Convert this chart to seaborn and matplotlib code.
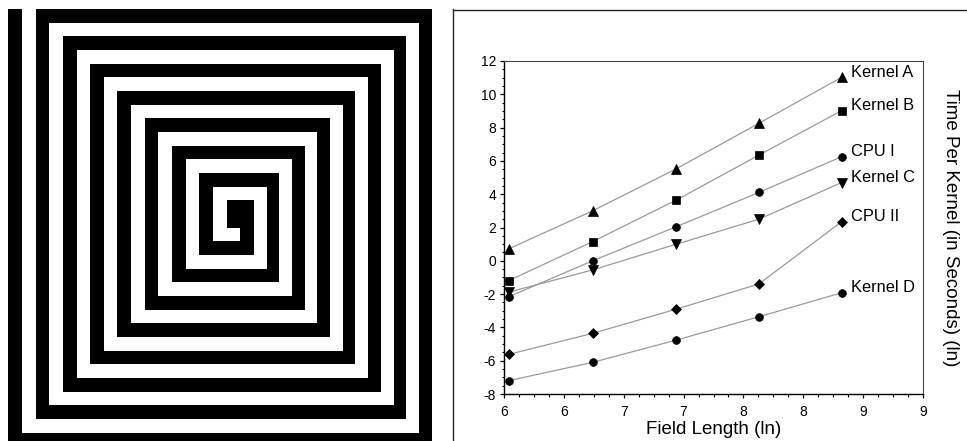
import matplotlib
matplotlib.use("Agg")
import matplotlib.pyplot as plt
from matplotlib.patches import Rectangle
from matplotlib.ticker import FixedLocator, MultipleLocator
import pandas as pd
import seaborn as sns

# ln(field length) for each measured run
field_ln = [6.04, 6.74, 7.44, 8.13, 8.82]

# ln(time per kernel, seconds)
kernel_a = [0.72, 3.00, 5.53, 8.26, 11.02]
kernel_b = [-1.19, 1.15, 3.65, 6.35, 9.02]
cpu_1 = [-2.16, 0.00, 2.05, 4.11, 6.25]
kernel_c = [-1.88, -0.55, 1.00, 2.50, 4.70]
cpu_2 = [-5.62, -4.36, -2.90, -1.39, 2.35]
kernel_d = [-7.20, -6.10, -4.76, -3.36, -1.92]

series_names = ["Kernel A", "Kernel B", "CPU I", "Kernel C", "CPU II", "Kernel D"]
series_values = [kernel_a, kernel_b, cpu_1, kernel_c, cpu_2, kernel_d]

x_ticks = [6.0, 6.5, 7.0, 7.5, 8.0, 8.5, 9.0, 9.5]
x_tick_labels = ["6", "6", "7", "7", "8", "8", "9", "9"]
y_ticks = [-8, -6, -4, -2, 0, 2, 4, 6, 8, 10, 12]
y_tick_labels = ["-8", "-6", "-4", "-2", "0", "2", "4", "6", "8", "10", "12"]

markers = {"Kernel A": "^", "Kernel B": "s", "CPU I": "o",
           "Kernel C": "v", "CPU II": "D", "Kernel D": "o"}
marker_sizes = {"Kernel A": 7.2, "Kernel B": 5.8, "CPU I": 5.6,
                "Kernel C": 7.2, "CPU II": 5.4, "Kernel D": 5.6}

df = pd.DataFrame({
    "field": field_ln * len(series_names),
    "time": [v for vals in series_values for v in vals],
    "series": [n for n in series_names for _ in field_ln],
})

sns.set_theme(style="ticks")
plt.rcParams["font.family"] = ["Liberation Sans", "DejaVu Sans"]

W, H = 967, 441
fig = plt.figure(figsize=(W / 100, H / 100), dpi=100)

# ---- square spiral panel (pixel coordinates) ----
bg = fig.add_axes([0, 0, 1, 1])
bg.set_xlim(0, W)
bg.set_ylim(H, 0)
bg.axis("off")

gx, gy = 8.3, 9.0
cell_left, cell_right, cell_v = 13.64, 12.707, 13.67
clip_x1, clip_y1 = 431.7, 441.0


def x_edge(c):
    # stripes right of the centre block are drawn a little narrower
    if c <= 18:
        return gx + cell_left * c
    return gx + cell_left * 18 + cell_right * (c - 18)


def cell_rect(c0, c1, r0, r1):
    x_a = max(x_edge(c0), gx)
    x_b = min(x_edge(c1 + 1), clip_x1)
    y_a = max(gy + r0 * cell_v, gy)
    y_b = min(gy + (r1 + 1) * cell_v, clip_y1)
    if x_b > x_a and y_b > y_a:
        bg.add_patch(Rectangle((x_a, y_a), x_b - x_a, y_b - y_a,
                               facecolor="black", edgecolor="none"))


cell_rect(16, 17, 14, 15)
cell_rect(17, 17, 14, 17)
for r in range(1, 9):
    cell_rect(16 - 2 * r, 15 + 2 * r, 15 + 2 * r, 15 + 2 * r)   # bottom
    cell_rect(16 - 2 * r, 16 - 2 * r, 14 - 2 * r, 15 + 2 * r)   # left
    cell_rect(16 - 2 * r, 17 + 2 * r, 14 - 2 * r, 14 - 2 * r)   # top
    cell_rect(17 + 2 * r, 17 + 2 * r, 14 - 2 * r, 17 + 2 * r)   # right

# panel frame of the chart
bg.plot([453, 453], [9, H], color="#222222", lw=1.0)
bg.plot([453, W], [9.5, 9.5], color="#222222", lw=1.0)

# ---- chart ----
L, R, T, B = 504, 923, 61, 394
ax = fig.add_axes([L / W, 1 - B / H, (R - L) / W, (B - T) / H])
ax.set_facecolor("white")

for name in series_names:
    sub = df[df["series"] == name]
    sns.lineplot(data=sub, x="field", y="time", ax=ax, color="#9a9a9a",
                 linewidth=0.9, marker=markers[name],
                 markersize=marker_sizes[name], markerfacecolor="black",
                 markeredgecolor="black", markeredgewidth=0.5,
                 legend=False, zorder=3)
    ax.annotate(name, xy=(sub["field"].iloc[-1], sub["time"].iloc[-1]),
                xytext=(7.0, 3.6), textcoords="offset points",
                ha="left", va="center", fontsize=11.8, color="black")

ax.set_xlim(6.0, 9.5)
ax.set_ylim(-8, 12)
ax.xaxis.set_major_locator(FixedLocator(x_ticks))
ax.set_xticklabels(x_tick_labels)
ax.xaxis.set_minor_locator(MultipleLocator(0.125))
ax.yaxis.set_major_locator(FixedLocator(y_ticks))
ax.set_yticklabels(y_tick_labels)
ax.yaxis.set_minor_locator(MultipleLocator(0.5))

ax.tick_params(which="major", direction="out", length=3.2, width=0.9,
               color="black", labelsize=10, labelcolor="black", pad=2.5)
ax.tick_params(axis="x", which="major", pad=4.5)
ax.tick_params(which="minor", direction="out", length=1.8, width=0.8,
               color="black")

for side in ["left", "bottom"]:
    ax.spines[side].set_color("black")
    ax.spines[side].set_linewidth(1.0)
for side in ["top", "right"]:
    ax.spines[side].set_color("#444444")
    ax.spines[side].set_linewidth(0.8)

ax.set_xlabel("Field Length (ln)", fontsize=13.5, labelpad=2, color="black")
ax.set_ylabel("")
fig.text(951 / W, 1 - 227.5 / H, "Time Per Kernel (in Seconds) (ln)",
         rotation=270, ha="center", va="center", fontsize=13.5, color="black")

fig.savefig("out.png", dpi=100)
